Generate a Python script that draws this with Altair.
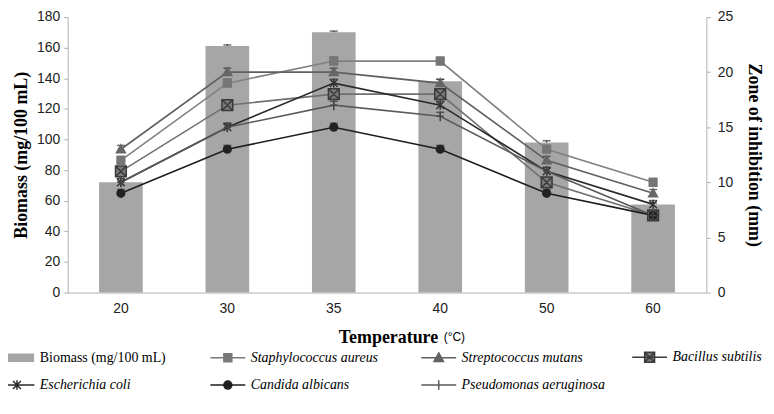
import altair as alt
import pandas as pd

# ---- data ----
temps = ["20", "30", "35", "40", "50", "60"]
biomass = [72, 161, 170, 138, 98, 57.5]
biomass_err = [0.8, 0.8, 0.8, 1.2, 1.2, 0.8]

species = ["Staphylococcus aureus", "Streptococcus mutans", "Bacillus subtilis",
           "Escherichia coli", "Candida albicans", "Pseudomonas aeruginosa"]
zone_staph = [12, 19, 21, 21, 13, 10]
zone_strep = [13, 20, 20, 19, 12, 9]
zone_bacillus = [11, 17, 18, 18, 10, 7]
zone_ecoli = [10, 15, 19, 17, 11, 8]
zone_candida = [9, 13, 15, 13, 9, 7]
zone_pseudo = [10, 15, 17, 16, 11, 7]
zone_err = [0.35, 0.35, 0.35, 0.35, 0.35, 0.35]

bar_label = "Biomass (mg/100 mL)"

# ---- styles ----
line_colors = ["#808080", "#5f5f5f", "#6f6f6f", "#2a2a2a", "#1e1e1e", "#5a5a5a"]
marker_fill = ["#767676", "#666666", "#7a7a7a", "#333333", "#222222", "#444444"]
marker_stroke = ["#767676", "#666666", "#3a3a3a", "#333333", "#222222", "#444444"]
marker_paths = [
    "M-1,-1H1V1H-1Z",
    "M0,-1.15L1.15,0.9L-1.15,0.9Z",
    "M-1.4,-1.4H1.4V1.4H-1.4ZM-1.4,-1.4L1.4,1.4M1.4,-1.4L-1.4,1.4",
    "M-1,-1L1,1M-1,1L1,-1M0,-1.2L0,1.2",
    "M1,0A1,1 0 1,1 -1,0A1,1 0 1,1 1,0Z",
    "M-0.9,0L0.9,0M0,-1.3L0,1.3",
]
legend_paths = [
    "M-3.3,-0.7H3.3V0.7H-3.3Z",
    "M-3.5,0L3.5,0M-0.8,-0.8H0.8V0.8H-0.8Z",
    "M-3.5,0L3.5,0M0,-0.95L0.95,0.75L-0.95,0.75Z",
    "M-3.5,0L3.5,0M-1,-1H1V1H-1ZM-1,-1L1,1M1,-1L-1,1",
    "M-3.5,0L3.5,0M-0.8,-0.8L0.8,0.8M-0.8,0.8L0.8,-0.8M0,-0.95L0,0.95",
    "M-3.5,0L3.5,0M0.8,0A0.8,0.8 0 1,1 -0.8,0A0.8,0.8 0 1,1 0.8,0Z",
    "M-3.5,0L3.5,0M0,-0.95L0,0.95",
]
entries = [bar_label, species[0], species[1], species[2], species[3], species[4], species[5]]
legend_fill = ["#a6a6a6"] + marker_fill
legend_stroke = ["#a6a6a6", "#7a7a7a", "#5f5f5f", "#3a3a3a", "#2a2a2a", "#1e1e1e", "#5a5a5a"]

# ---- tables ----
bar_df = pd.DataFrame({"Temperature": temps, "Biomass": biomass, "err": biomass_err})
zones = [zone_staph, zone_strep, zone_bacillus, zone_ecoli, zone_candida, zone_pseudo]
rows = []
for s, vals in zip(species, zones):
    for t, v, e in zip(temps, vals, zone_err):
        rows.append({"Temperature": t, "series": s, "entry": s, "Zone": v, "err": e})
line_df = pd.DataFrame(rows)

SERIF = "Liberation Serif"
SANS = "Liberation Sans"

x_enc = alt.X("Temperature:N", sort=temps,
              scale=alt.Scale(paddingInner=0, paddingOuter=0),
              axis=alt.Axis(title="Temperature", labelAngle=0, ticks=False,
                            labelPadding=9, titleFont=SERIF, titleFontSize=18,
                            titleFontWeight="bold", titleX=322, titleY=36,
                            titleColor="#000"))

left_scale = alt.Scale(domain=[0, 180], nice=False)
right_scale = alt.Scale(domain=[0, 25], nice=False)
left_axis = alt.Axis(title="Biomass (mg/100 mL)", values=list(range(0, 181, 20)),
                     labelOverlap=False, grid=False, titleFont=SERIF, titleFontSize=18,
                     titleFontWeight="bold", titlePadding=6, titleColor="#000")
right_axis = alt.Axis(orient="right", title="Zone of inhibition (mm)",
                      values=[0, 5, 10, 15, 20, 25], grid=False, labelOverlap=False,
                      labelPadding=7, titleFont=SERIF, titleFontSize=18,
                      titleFontWeight="bold", titlePadding=12, titleColor="#000")

# ---- left (biomass) layer ----
bars = alt.Chart(bar_df).mark_bar(color="#a6a6a6", width={"band": 0.41}).encode(
    x=x_enc, y=alt.Y("Biomass:Q", scale=left_scale, axis=left_axis),
)
bar_rule = alt.Chart(bar_df).transform_calculate(top="datum.Biomass + datum.err").mark_rule(
    color="#333", strokeWidth=1.2).encode(
    x=x_enc, y=alt.Y("Biomass:Q", scale=left_scale, axis=left_axis), y2="top:Q")
bar_cap = alt.Chart(bar_df).transform_calculate(top="datum.Biomass + datum.err").mark_tick(
    color="#333", size=8, thickness=1.5).encode(
    x=x_enc, y=alt.Y("top:Q", scale=left_scale, axis=left_axis))
left = alt.layer(bars, bar_rule, bar_cap)

# ---- right (zone of inhibition) layer ----
lines = alt.Chart(line_df).mark_line(strokeWidth=1.6).encode(
    x=x_enc, y=alt.Y("Zone:Q", scale=right_scale, axis=right_axis),
    stroke=alt.Stroke("series:N", scale=alt.Scale(domain=species, range=line_colors), legend=None),
)
zone_rule = alt.Chart(line_df).transform_calculate(top="datum.Zone + datum.err").mark_rule(
    color="#333", strokeWidth=1.2).encode(
    x=x_enc, y=alt.Y("Zone:Q", scale=right_scale, axis=right_axis), y2="top:Q")
zone_cap = alt.Chart(line_df).transform_calculate(top="datum.Zone + datum.err").mark_tick(
    color="#333", size=8, thickness=1.5).encode(
    x=x_enc, y=alt.Y("top:Q", scale=right_scale, axis=right_axis))
points = alt.Chart(line_df).mark_point(filled=True, size=60, strokeWidth=1.5, opacity=1).encode(
    x=x_enc, y=alt.Y("Zone:Q", scale=right_scale, axis=right_axis),
    fill=alt.Fill("series:N", scale=alt.Scale(domain=species, range=marker_fill), legend=None),
    stroke=alt.Stroke("series:N", scale=alt.Scale(domain=species, range=marker_stroke), legend=None),
    shape=alt.Shape("series:N", scale=alt.Scale(domain=species, range=marker_paths), legend=None),
)

leg = alt.Legend(
    title=None, orient="none", legendX=-58, legendY=335, columns=4, direction="horizontal",
    gridAlign="all", columnPadding=23, rowPadding=12, padding=0,
    symbolSize=100, symbolStrokeWidth=1.5, symbolOpacity=1, labelOffset=16,
    labelFont=SERIF, labelFontSize=14, labelColor="#000", labelLimit=300,
    labelFontStyle=alt.ExprRef("datum.value == '" + bar_label + "' ? 'normal' : 'italic'"),
)
legend_layer = alt.Chart(line_df).transform_filter("false").mark_point(filled=True, opacity=1).encode(
    fill=alt.Fill("entry:N", scale=alt.Scale(domain=entries, range=legend_fill), legend=leg),
    stroke=alt.Stroke("entry:N", scale=alt.Scale(domain=entries, range=legend_stroke), legend=leg),
    shape=alt.Shape("entry:N", scale=alt.Scale(domain=entries, range=legend_paths), legend=leg),
)

right = alt.layer(lines, zone_rule, zone_cap, points, legend_layer).resolve_scale(
    stroke="independent", fill="independent", shape="independent")

unit_df = pd.DataFrame({"t": ["(°C)"]})
unit_text = alt.Chart(unit_df).mark_text(align="left", baseline="middle", font=SANS,
                                         fontSize=12, color="#000").encode(
    text="t:N", x=alt.value(378), y=alt.value(322))

chart = alt.layer(left, right, unit_text).resolve_scale(
    y="independent", stroke="independent", fill="independent", shape="independent"
).properties(
    width=642, height=277,
    autosize=alt.AutoSizeParams(type="none"),
    padding={"left": 60, "top": 8, "right": 60, "bottom": 113},
).configure_view(stroke=None).configure_axis(
    labelFont=SANS, labelFontSize=14, labelColor="#222",
    domainColor="#b0b0b0", tickColor="#b0b0b0", tickSize=4, labelPadding=4,
)

chart.save("out.html", embed_options={"renderer": "svg", "actions": False})
